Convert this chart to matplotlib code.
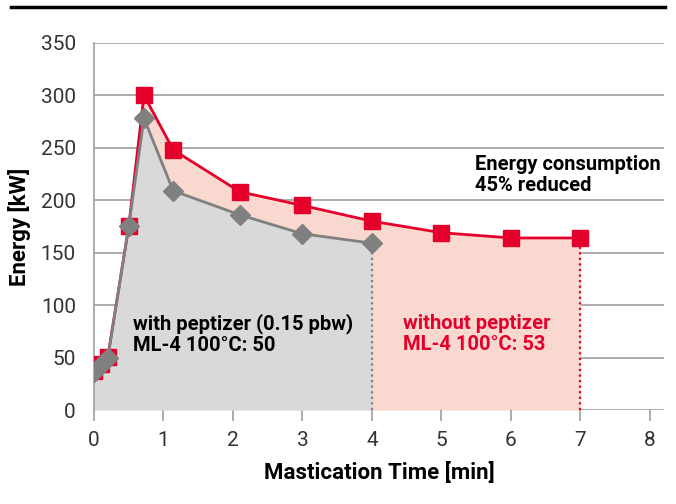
import numpy as np
import matplotlib.pyplot as plt
from matplotlib.lines import Line2D

plt.rcParams['font.family'] = ['Roboto', 'DejaVu Sans']

# Daten
t_red = [0, 0.1, 0.2, 0.5, 0.72, 1.14, 2.1, 3, 4, 5, 6, 7]
e_red = [37, 44, 51, 175, 300, 248, 208, 195, 180, 169, 164, 164]
t_gray = [0, 0.1, 0.2, 0.5, 0.72, 1.14, 2.1, 3, 4]
e_gray = [36, 43, 50, 175, 278, 209, 186, 168, 159]
x_ticks = [0, 1, 2, 3, 4, 5, 6, 7, 8]
y_ticks = [0, 50, 100, 150, 200, 250, 300, 350]

red = '#e4002b'
red_fill = '#f9d9cf'
gray = '#808080'
gray_fill = '#d9d9d9'
grid_c = '#a6a6a6'

fig = plt.figure(figsize=(6.76, 5.04), dpi=100)
ax = fig.add_axes([0.139, 0.1865, 0.843, 0.7285])

# Flächen
ax.fill_between(t_red, 0, e_red, color=red_fill, lw=0, zorder=1)
ax.fill_between(t_gray, 0, e_gray, color=gray_fill, lw=0, zorder=2)

# Gitter
for y in y_ticks:
    ax.axhline(y, color=grid_c, lw=1.3, zorder=0.5)

# gepunktete Linien
ax.plot([t_gray[-1], t_gray[-1]], [0, e_gray[-1]], color=gray, ls=(0, (1, 1.5)), lw=1.6, zorder=3)
ax.plot([t_red[-1], t_red[-1]], [0, e_red[-1]], color=red, ls=(0, (1, 1.5)), lw=1.6, zorder=3)

# Kurven
ax.plot(t_red, e_red, color=red, lw=2, marker='s', ms=11, zorder=4)
ax.plot(t_gray, e_gray, color=gray, lw=2, marker='D', ms=10, zorder=5)

ax.set_xlim(0, 8.2)
ax.set_ylim(0, 350)
ax.set_xticks(x_ticks)
ax.set_yticks(y_ticks)
ax.tick_params(axis='x', length=8, width=1.3, color=grid_c, labelsize=15, pad=7,
               labelcolor='#333333')
ax.tick_params(axis='y', length=0, labelsize=15, pad=13, labelcolor='#333333')
for s in ['top', 'right', 'bottom']:
    ax.spines[s].set_visible(False)
ax.spines['left'].set_color(grid_c)
ax.spines['left'].set_linewidth(1.3)

ax.set_xlabel('Mastication Time [min]', fontsize=16, fontweight='bold', labelpad=9)
ax.set_ylabel('Energy [kW]', fontsize=16, fontweight='bold', labelpad=7)

# Beschriftungen
ax.text(5.48, 224, 'Energy consumption\n45% reduced', fontsize=14.5, fontweight='bold',
        va='center', ha='left', linespacing=1.15)
ax.text(0.56, 72.5, 'with peptizer (0.15 pbw)\nML-4 100°C: 50', fontsize=14.5, fontweight='bold',
        va='center', ha='left', linespacing=1.15, zorder=6)
ax.text(4.45, 72.5, 'without peptizer\nML-4 100°C: 53', fontsize=14.5, fontweight='bold',
        color=red, va='center', ha='left', linespacing=1.15, zorder=6)

# Linie oben
fig.add_artist(Line2D([0.016, 0.984], [0.986, 0.986], color='black', lw=2.5,
                      transform=fig.transFigure))

fig.savefig('out.png', dpi=100)
